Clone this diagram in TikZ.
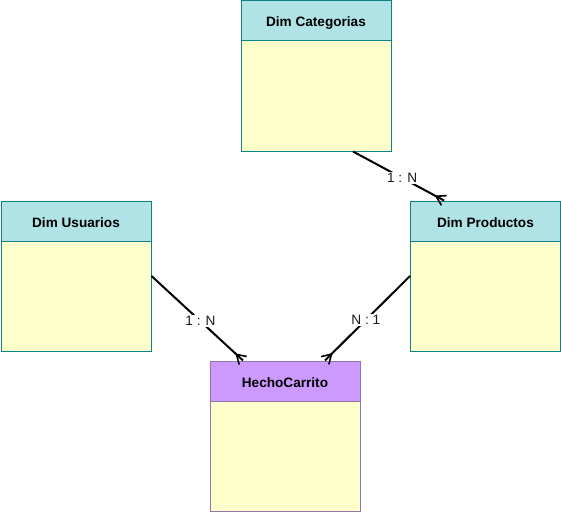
\documentclass[tikz,border=0pt]{standalone}
\usepackage{fontspec}
\setmainfont{Liberation Sans}
\usetikzlibrary{calc}
\definecolor{dimhead}{HTML}{B0E3E6}
\definecolor{dimline}{HTML}{0E8088}
\definecolor{bodyfill}{HTML}{FFFFCC}
\definecolor{facthead}{HTML}{CC99FF}
\definecolor{factline}{HTML}{9673A6}
\tikzset{
  hdr/.style={draw, line width=1pt, minimum width=150pt, minimum height=40pt, inner sep=0pt, anchor=north west,
    text height=12pt, text depth=0pt, font=\fontsize{13.6}{16}\selectfont\bfseries},
  bdy/.style={draw, line width=1pt, fill=bodyfill, minimum width=150pt, minimum height=110pt, inner sep=0pt, anchor=north west},
  dimh/.style={hdr, fill=dimhead, draw=dimline},
  dimb/.style={bdy, draw=dimline},
  facth/.style={hdr, fill=facthead, draw=factline},
  factb/.style={bdy, draw=factline},
  conn/.style={draw=black, line width=2pt},
  fan/.style={draw=black, line width=1.6pt},
  lbl/.style={fill=white, inner sep=1.5pt, font=\fontsize{13.6}{16}\selectfont, text=black!90}
}
\begin{document}
\begin{tikzpicture}[x=1pt,y=-1pt]
\useasboundingbox (0,0) rectangle (561,511);
% entities
\node[dimb] (catB) at (240.5,40.5) {};
\node[dimh] (catH) at (240.5,0.5) {Dim Categorias};
\node[dimb] (usrB) at (0.5,240.5) {};
\node[dimh] (usrH) at (0.5,200.5) {Dim Usuarios};
\node[dimb] (proB) at (410,240.5) {};
\node[dimh] (proH) at (410,200.5) {Dim Productos};
\node[factb] (hecB) at (209.5,400.5) {};
\node[facth] (hecH) at (209.5,360.5) {HechoCarrito};
% connection points
\coordinate (s1) at ($(usrH.north east)!0.5!(usrB.south east)$);
\coordinate (e1) at ($(hecH.north west)+(33.5,0)$);
\coordinate (s2) at ($(proH.north west)!0.5!(proB.south west)$);
\coordinate (e2) at ($(hecH.north west)+(115.5,0)$);
\coordinate (s3) at ($(catB.south west)+(112.5,0)$);
\coordinate (e3) at ($(proH.north west)+(34,0)$);
% connectors
\draw[conn] (s1) -- node[lbl, pos=0.535] (l1) {1 : N} (e1);
\draw[conn] (s2) -- node[lbl, pos=0.52] (l2) {N : 1} (e2);
\draw[conn] (s3) -- node[lbl, pos=0.54] (l3) {1 : N} (e3);
% crow's feet
\foreach \s/\e in {s1/e1, s2/e2, s3/e3}{
  \draw[fan] ($(\e)!9pt!(\s)$) -- ($(\e)!5.5pt!90:(\s)$);
  \draw[fan] ($(\e)!9pt!(\s)$) -- ($(\e)!5.5pt!-90:(\s)$);
}
\end{tikzpicture}
\end{document}
